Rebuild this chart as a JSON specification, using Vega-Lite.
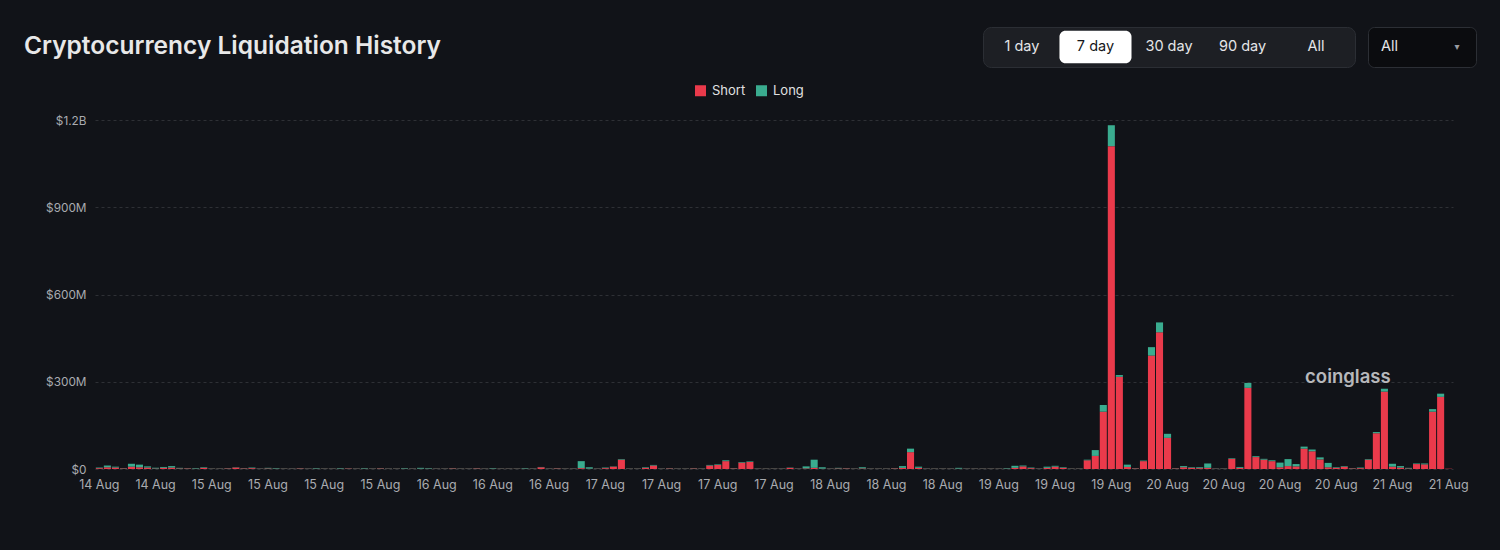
{
  "$schema": "https://vega.github.io/schema/vega-lite/v6.json",
  "description": "Cryptocurrency liquidation history, hourly, 7 days",
  "padding": {"left": 24, "top": 26, "right": 25, "bottom": 59},
  "background": "#111318",
  "spacing": 47,
  "config": {
    "view": {"stroke": null},
    "axis": {
      "labelFont": "Inter",
      "labelFontSize": 12.5,
      "labelColor": "#a9abb0",
      "domain": false,
      "ticks": false,
      "title": null
    },
    "legend": {"labelFont": "Inter", "labelFontSize": 13, "labelColor": "#e0e0e0"}
  },
  "vconcat": [
    {
      "spacing": 11,
      "hconcat": [
        {
          "width": 876,
          "height": 40,
          "data": {"values": [{"text": "Cryptocurrency Liquidation History"}]},
          "mark": {"type": "text", "align": "left", "baseline": "middle", "dx": -71, "font": "Inter", "fontSize": 24.5, "fontWeight": 600, "color": "#e8e8e8"},
          "encoding": {
            "x": {"value": 0},
            "text": {"field": "text"}
          }
        },
        {
          "width": 372,
          "height": 40,
          "view": {"fill": "#1d1f24", "stroke": "#2b2e34", "cornerRadius": 8},
          "data": {
            "values": [
              {"b": "1 day", "sel": 0},
              {"b": "7 day", "sel": 1},
              {"b": "30 day", "sel": 0},
              {"b": "90 day", "sel": 0},
              {"b": "All", "sel": 0}
            ]
          },
          "encoding": {
            "x": {"field": "b", "type": "nominal", "sort": null, "scale": {"paddingInner": 0.02, "paddingOuter": 0.04}, "axis": null}
          },
          "layer": [
            {
              "mark": {"type": "bar", "cornerRadius": 6, "color": "#ffffff"},
              "encoding": {
                "y": {"datum": "row", "type": "nominal", "scale": {"paddingInner": 0.1, "paddingOuter": 0.1}, "axis": null},
                "opacity": {"condition": {"test": "datum.sel == 1", "value": 1}, "value": 0}
              }
            },
            {
              "mark": {"type": "text", "baseline": "middle", "font": "Inter", "fontSize": 14.5},
              "encoding": {
                "text": {"field": "b"},
                "color": {"condition": {"test": "datum.sel == 1", "value": "#15171b"}, "value": "#e4e5e8"}
              }
            }
          ]
        },
        {
          "width": 108,
          "height": 40,
          "view": {"fill": "#0b0c0f", "stroke": "#2c2f35", "cornerRadius": 6},
          "data": {"values": [{"p": "a", "t": "All"}, {"p": "b", "t": "▾"}]},
          "encoding": {
            "x": {"field": "p", "type": "nominal", "scale": {"paddingInner": 0, "paddingOuter": 0}, "axis": null},
            "text": {"field": "t"}
          },
          "layer": [
            {
              "transform": [{"filter": "datum.p == 'a'"}],
              "mark": {"type": "text", "align": "left", "baseline": "middle", "dx": -14, "font": "Inter", "fontSize": 14.5, "color": "#e4e5e8"}
            },
            {
              "transform": [{"filter": "datum.p == 'b'"}],
              "mark": {"type": "text", "align": "center", "baseline": "middle", "dx": 8, "font": "DejaVu Sans", "fontSize": 10, "color": "#9a9ca2"}
            }
          ]
        }
      ]
    },
    {
      "width": 1358,
      "height": 349,
      "layer": [
        {
          "data": {
            "values": [
              {"t": "08-14 11:00", "Short": 3, "Long": 2},
              {"t": "08-14 12:00", "Short": 6, "Long": 6},
              {"t": "08-14 13:00", "Short": 5, "Long": 3},
              {"t": "08-14 14:00", "Short": 2, "Long": 1},
              {"t": "08-14 15:00", "Short": 8, "Long": 10},
              {"t": "08-14 16:00", "Short": 6, "Long": 9},
              {"t": "08-14 17:00", "Short": 5, "Long": 4},
              {"t": "08-14 18:00", "Short": 2, "Long": 2},
              {"t": "08-14 19:00", "Short": 4, "Long": 3},
              {"t": "08-14 20:00", "Short": 5, "Long": 5},
              {"t": "08-14 21:00", "Short": 2, "Long": 2},
              {"t": "08-14 22:00", "Short": 2, "Long": 1},
              {"t": "08-14 23:00", "Short": 1, "Long": 2},
              {"t": "08-15 00:00", "Short": 4, "Long": 2},
              {"t": "08-15 01:00", "Short": 1, "Long": 1},
              {"t": "08-15 02:00", "Short": 1, "Long": 1},
              {"t": "08-15 03:00", "Short": 2, "Long": 1},
              {"t": "08-15 04:00", "Short": 5, "Long": 1},
              {"t": "08-15 05:00", "Short": 2, "Long": 1},
              {"t": "08-15 06:00", "Short": 3, "Long": 2},
              {"t": "08-15 07:00", "Short": 1, "Long": 1},
              {"t": "08-15 08:00", "Short": 2, "Long": 2},
              {"t": "08-15 09:00", "Short": 1, "Long": 2},
              {"t": "08-15 10:00", "Short": 1, "Long": 1},
              {"t": "08-15 11:00", "Short": 1, "Long": 1},
              {"t": "08-15 12:00", "Short": 2, "Long": 1},
              {"t": "08-15 13:00", "Short": 1, "Long": 1},
              {"t": "08-15 14:00", "Short": 1, "Long": 2},
              {"t": "08-15 15:00", "Short": 1, "Long": 1},
              {"t": "08-15 16:00", "Short": 1, "Long": 1},
              {"t": "08-15 17:00", "Short": 1, "Long": 2},
              {"t": "08-15 18:00", "Short": 2, "Long": 1},
              {"t": "08-15 19:00", "Short": 1, "Long": 1},
              {"t": "08-15 20:00", "Short": 1, "Long": 2},
              {"t": "08-15 21:00", "Short": 1, "Long": 1},
              {"t": "08-15 22:00", "Short": 2, "Long": 1},
              {"t": "08-15 23:00", "Short": 1, "Long": 1},
              {"t": "08-16 00:00", "Short": 1, "Long": 1},
              {"t": "08-16 01:00", "Short": 1, "Long": 2},
              {"t": "08-16 02:00", "Short": 1, "Long": 1},
              {"t": "08-16 03:00", "Short": 1, "Long": 3},
              {"t": "08-16 04:00", "Short": 1, "Long": 2},
              {"t": "08-16 05:00", "Short": 1, "Long": 1},
              {"t": "08-16 06:00", "Short": 1, "Long": 1},
              {"t": "08-16 07:00", "Short": 2, "Long": 1},
              {"t": "08-16 08:00", "Short": 1, "Long": 1},
              {"t": "08-16 09:00", "Short": 1, "Long": 1},
              {"t": "08-16 10:00", "Short": 2, "Long": 1},
              {"t": "08-16 11:00", "Short": 1, "Long": 1},
              {"t": "08-16 12:00", "Short": 1, "Long": 2},
              {"t": "08-16 13:00", "Short": 1, "Long": 1},
              {"t": "08-16 14:00", "Short": 1, "Long": 1},
              {"t": "08-16 15:00", "Short": 1, "Long": 1},
              {"t": "08-16 16:00", "Short": 1, "Long": 2},
              {"t": "08-16 17:00", "Short": 1, "Long": 1},
              {"t": "08-16 18:00", "Short": 6, "Long": 1},
              {"t": "08-16 19:00", "Short": 1, "Long": 1},
              {"t": "08-16 20:00", "Short": 2, "Long": 1},
              {"t": "08-16 21:00", "Short": 1, "Long": 1},
              {"t": "08-16 22:00", "Short": 1, "Long": 1},
              {"t": "08-16 23:00", "Short": 3, "Long": 24},
              {"t": "08-17 00:00", "Short": 1, "Long": 5},
              {"t": "08-17 01:00", "Short": 1, "Long": 1},
              {"t": "08-17 02:00", "Short": 3, "Long": 2},
              {"t": "08-17 03:00", "Short": 8, "Long": 1},
              {"t": "08-17 04:00", "Short": 32, "Long": 2},
              {"t": "08-17 05:00", "Short": 1, "Long": 1},
              {"t": "08-17 06:00", "Short": 1, "Long": 1},
              {"t": "08-17 07:00", "Short": 4, "Long": 2},
              {"t": "08-17 08:00", "Short": 12, "Long": 2},
              {"t": "08-17 09:00", "Short": 1, "Long": 1},
              {"t": "08-17 10:00", "Short": 2, "Long": 1},
              {"t": "08-17 11:00", "Short": 1, "Long": 1},
              {"t": "08-17 12:00", "Short": 1, "Long": 1},
              {"t": "08-17 13:00", "Short": 2, "Long": 1},
              {"t": "08-17 14:00", "Short": 1, "Long": 1},
              {"t": "08-17 15:00", "Short": 12, "Long": 2},
              {"t": "08-17 16:00", "Short": 14, "Long": 2},
              {"t": "08-17 17:00", "Short": 27, "Long": 3},
              {"t": "08-17 18:00", "Short": 2, "Long": 1},
              {"t": "08-17 19:00", "Short": 22, "Long": 2},
              {"t": "08-17 20:00", "Short": 24, "Long": 2},
              {"t": "08-17 21:00", "Short": 1, "Long": 1},
              {"t": "08-17 22:00", "Short": 1, "Long": 1},
              {"t": "08-17 23:00", "Short": 1, "Long": 1},
              {"t": "08-18 00:00", "Short": 1, "Long": 1},
              {"t": "08-18 01:00", "Short": 4, "Long": 1},
              {"t": "08-18 02:00", "Short": 1, "Long": 1},
              {"t": "08-18 03:00", "Short": 2, "Long": 7},
              {"t": "08-18 04:00", "Short": 4, "Long": 28},
              {"t": "08-18 05:00", "Short": 1, "Long": 5},
              {"t": "08-18 06:00", "Short": 1, "Long": 1},
              {"t": "08-18 07:00", "Short": 2, "Long": 2},
              {"t": "08-18 08:00", "Short": 2, "Long": 1},
              {"t": "08-18 09:00", "Short": 1, "Long": 1},
              {"t": "08-18 10:00", "Short": 2, "Long": 4},
              {"t": "08-18 11:00", "Short": 1, "Long": 1},
              {"t": "08-18 12:00", "Short": 1, "Long": 1},
              {"t": "08-18 13:00", "Short": 1, "Long": 1},
              {"t": "08-18 14:00", "Short": 2, "Long": 1},
              {"t": "08-18 15:00", "Short": 4, "Long": 6},
              {"t": "08-18 16:00", "Short": 58, "Long": 12},
              {"t": "08-18 17:00", "Short": 4, "Long": 4},
              {"t": "08-18 18:00", "Short": 1, "Long": 1},
              {"t": "08-18 19:00", "Short": 1, "Long": 1},
              {"t": "08-18 20:00", "Short": 1, "Long": 1},
              {"t": "08-18 21:00", "Short": 1, "Long": 1},
              {"t": "08-18 22:00", "Short": 1, "Long": 3},
              {"t": "08-18 23:00", "Short": 1, "Long": 1},
              {"t": "08-19 00:00", "Short": 1, "Long": 1},
              {"t": "08-19 01:00", "Short": 1, "Long": 1},
              {"t": "08-19 02:00", "Short": 1, "Long": 1},
              {"t": "08-19 03:00", "Short": 1, "Long": 1},
              {"t": "08-19 04:00", "Short": 1, "Long": 2},
              {"t": "08-19 05:00", "Short": 4, "Long": 7},
              {"t": "08-19 06:00", "Short": 9, "Long": 3},
              {"t": "08-19 07:00", "Short": 3, "Long": 2},
              {"t": "08-19 08:00", "Short": 1, "Long": 1},
              {"t": "08-19 09:00", "Short": 4, "Long": 4},
              {"t": "08-19 10:00", "Short": 8, "Long": 3},
              {"t": "08-19 11:00", "Short": 4, "Long": 2},
              {"t": "08-19 12:00", "Short": 1, "Long": 1},
              {"t": "08-19 13:00", "Short": 1, "Long": 1},
              {"t": "08-19 14:00", "Short": 30, "Long": 2},
              {"t": "08-19 15:00", "Short": 45, "Long": 20},
              {"t": "08-19 16:00", "Short": 197, "Long": 23},
              {"t": "08-19 17:00", "Short": 1110, "Long": 72},
              {"t": "08-19 18:00", "Short": 317, "Long": 6},
              {"t": "08-19 19:00", "Short": 7, "Long": 8},
              {"t": "08-19 20:00", "Short": 2, "Long": 1},
              {"t": "08-19 21:00", "Short": 27, "Long": 2},
              {"t": "08-19 22:00", "Short": 390, "Long": 29},
              {"t": "08-19 23:00", "Short": 470, "Long": 34},
              {"t": "08-20 00:00", "Short": 107, "Long": 14},
              {"t": "08-20 01:00", "Short": 2, "Long": 1},
              {"t": "08-20 02:00", "Short": 6, "Long": 4},
              {"t": "08-20 03:00", "Short": 4, "Long": 2},
              {"t": "08-20 04:00", "Short": 3, "Long": 3},
              {"t": "08-20 05:00", "Short": 4, "Long": 15},
              {"t": "08-20 06:00", "Short": 1, "Long": 1},
              {"t": "08-20 07:00", "Short": 1, "Long": 1},
              {"t": "08-20 08:00", "Short": 35, "Long": 2},
              {"t": "08-20 09:00", "Short": 4, "Long": 3},
              {"t": "08-20 10:00", "Short": 279, "Long": 17},
              {"t": "08-20 11:00", "Short": 41, "Long": 3},
              {"t": "08-20 12:00", "Short": 32, "Long": 3},
              {"t": "08-20 13:00", "Short": 27, "Long": 3},
              {"t": "08-20 14:00", "Short": 6, "Long": 16},
              {"t": "08-20 15:00", "Short": 10, "Long": 24},
              {"t": "08-20 16:00", "Short": 9, "Long": 8},
              {"t": "08-20 17:00", "Short": 70, "Long": 7},
              {"t": "08-20 18:00", "Short": 61, "Long": 6},
              {"t": "08-20 19:00", "Short": 33, "Long": 7},
              {"t": "08-20 20:00", "Short": 6, "Long": 15},
              {"t": "08-20 21:00", "Short": 4, "Long": 2},
              {"t": "08-20 22:00", "Short": 8, "Long": 2},
              {"t": "08-20 23:00", "Short": 2, "Long": 1},
              {"t": "08-21 00:00", "Short": 3, "Long": 2},
              {"t": "08-21 01:00", "Short": 32, "Long": 2},
              {"t": "08-21 02:00", "Short": 123, "Long": 4},
              {"t": "08-21 03:00", "Short": 266, "Long": 10},
              {"t": "08-21 04:00", "Short": 8, "Long": 10},
              {"t": "08-21 05:00", "Short": 5, "Long": 5},
              {"t": "08-21 06:00", "Short": 2, "Long": 2},
              {"t": "08-21 07:00", "Short": 17, "Long": 2},
              {"t": "08-21 08:00", "Short": 16, "Long": 3},
              {"t": "08-21 09:00", "Short": 197, "Long": 9},
              {"t": "08-21 10:00", "Short": 248, "Long": 11},
              {"t": "08-21 11:00", "Short": 1, "Long": 0}
            ]
          },
          "transform": [{"fold": ["Short", "Long"], "as": ["side", "usd"]}],
          "mark": {"type": "bar"},
          "encoding": {
            "x": {
              "field": "t",
              "type": "ordinal",
              "scale": {"paddingInner": 0.12, "paddingOuter": 0.1},
              "axis": {
                "values": ["08-14 11:00", "08-14 18:00", "08-15 01:00", "08-15 08:00", "08-15 15:00",
                           "08-15 22:00", "08-16 05:00", "08-16 12:00", "08-16 19:00", "08-17 02:00",
                           "08-17 09:00", "08-17 16:00", "08-17 23:00", "08-18 06:00", "08-18 13:00",
                           "08-18 20:00", "08-19 03:00", "08-19 10:00", "08-19 17:00", "08-20 00:00",
                           "08-20 07:00", "08-20 14:00", "08-20 21:00", "08-21 04:00", "08-21 11:00"],
                "labelExpr": "substring(datum.value, 3, 5) + ' Aug'",
                "labelAngle": 0,
                "labelPadding": 9,
                "grid": false
              }
            },
            "y": {
              "field": "usd",
              "type": "quantitative",
              "stack": "zero",
              "scale": {"domain": [0, 1200], "nice": false},
              "axis": {
                "values": [0, 300, 600, 900, 1200],
                "labelExpr": "datum.value == 0 ? '$0' : datum.value >= 1000 ? '$' + format(datum.value / 1000, '.1f') + 'B' : '$' + datum.value + 'M'",
                "labelFontSize": 11.8,
                "labelPadding": 9,
                "grid": true,
                "gridColor": "#2e3035",
                "gridDash": [3, 3],
                "gridWidth": 1
              }
            },
            "color": {
              "field": "side",
              "type": "nominal",
              "scale": {"domain": ["Short", "Long"], "range": ["#ea3a4b", "#3aac8f"]},
              "legend": {
                "title": null,
                "orient": "none",
                "direction": "horizontal",
                "legendX": 599,
                "legendY": 57,
                "symbolType": "square",
                "symbolSize": 121,
                "symbolStrokeWidth": 0,
                "labelOffset": 5,
                "columnPadding": 9
              }
            },
            "order": {"field": "side", "sort": "descending"}
          }
        },
        {
          "data": {"values": [{"t": "08-20 17:00", "usd": 318, "mark": "coinglass"}]},
          "mark": {"type": "text", "align": "left", "baseline": "middle", "dx": 1, "font": "Inter", "fontSize": 18.5, "fontWeight": 600, "color": "#c9cacd", "opacity": 0.9},
          "encoding": {
            "x": {"field": "t", "type": "ordinal"},
            "y": {"field": "usd", "type": "quantitative"},
            "text": {"field": "mark"}
          }
        }
      ]
    }
  ]
}
